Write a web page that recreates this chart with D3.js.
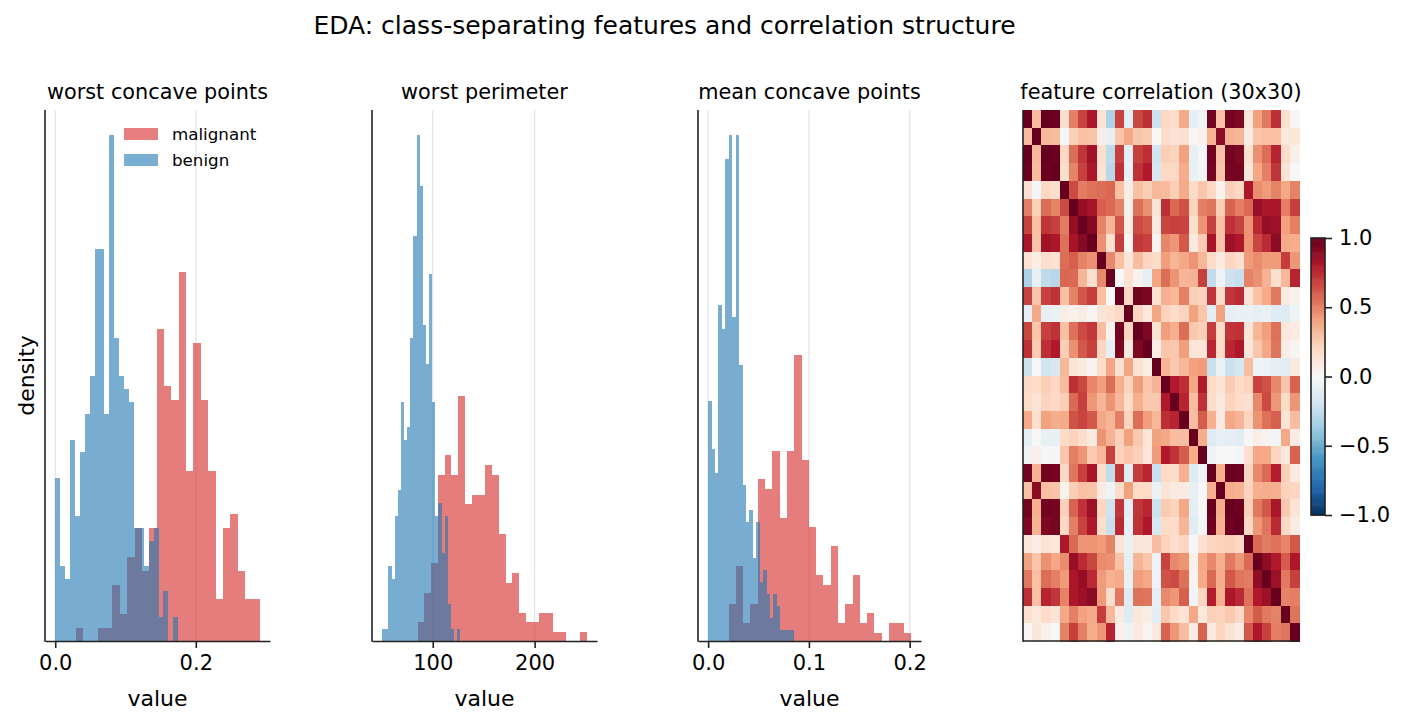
<!DOCTYPE html>
<html>
<head>
<meta charset="utf-8">
<script src="https://cdn.jsdelivr.net/npm/d3@7"></script>
<style>
  body { margin: 0; background: #fff; }
  text { font-family: "DejaVu Sans", sans-serif; fill: #000; }
</style>
</head>
<body>
<svg id="chart"></svg>
<script>
// histogram densities (25 bins per class)
let wcpBenignRange = [0.0, 0.175];
let wcpBenign = [5.24, 2.41, 1.99, 6.46, 4.02, 6.07, 7.29, 8.51, 12.56, 12.56, 7.29, 16.22, 9.73, 8.51, 8.09, 7.68, 3.63, 3.63, 2.41, 3.21, 3.63, 0.77, 1.61, 0, 0.77];
let wcpMalignantRange = [0.029, 0.291];
let wcpMalignant = [0.42, 0, 0, 0.42, 0.42, 1.80, 0.87, 2.70, 3.63, 2.25, 3.63, 10.02, 8.19, 7.74, 11.85, 5.46, 9.57, 7.74, 5.46, 1.35, 3.63, 4.08, 2.25, 1.35, 1.35];
let wcpTicks = [0.0, 0.2];

let wpBenignRange = [50.41, 127.1];
let wpBenign = [0.00087, 0.00087, 0.00544, 0.00450, 0.00906, 0.01095, 0.01733, 0.01457, 0.01552, 0.02197, 0.02929, 0.03661, 0.03292, 0.02284, 0.02008, 0.02654, 0.01733, 0.00906, 0.01001, 0.00638, 0.00906, 0.00268, 0.00087, 0, 0.00087];
let wpMalignantRange = [85.1, 251.2];
let wpMalignant = [0.00138, 0.00348, 0.00566, 0.01204, 0.01349, 0.01204, 0.01776, 0.00993, 0.01059, 0.01059, 0.01276, 0.01204, 0.00776, 0.00421, 0.00493, 0.00203, 0.00138, 0.00138, 0.00203, 0.00203, 0.00065, 0.00065, 0, 0, 0.00065];
let wpTicks = [100, 200];

let mcpBenignRange = [0.0, 0.08534];
let mcpBenign = [16.58, 13.27, 11.61, 23.22, 21.56, 33.24, 34.90, 22.39, 34.90, 19.07, 10.78, 8.22, 9.05, 5.74, 8.22, 4.08, 4.91, 3.25, 1.59, 3.25, 2.42, 0.76, 0.76, 0.76, 0.76];
let mcpMalignantRange = [0.02031, 0.2012];
let mcpMalignant = [2.56, 5.18, 1.24, 2.56, 11.19, 10.50, 13.13, 8.50, 13.13, 19.76, 12.51, 7.88, 4.56, 3.87, 6.56, 1.24, 2.56, 4.56, 1.24, 1.93, 0.55, 0, 1.24, 1.24, 0.55];
let mcpTicks = [0.0, 0.1, 0.2];

let classNames = ['malignant', 'benign'];
let classColors = ['#d62728', '#1f77b4'];

let featureNames = ['mean radius', 'mean texture', 'mean perimeter', 'mean area', 'mean smoothness',
  'mean compactness', 'mean concavity', 'mean concave points', 'mean symmetry', 'mean fractal dimension',
  'radius error', 'texture error', 'perimeter error', 'area error', 'smoothness error',
  'compactness error', 'concavity error', 'concave points error', 'symmetry error', 'fractal dimension error',
  'worst radius', 'worst texture', 'worst perimeter', 'worst area', 'worst smoothness',
  'worst compactness', 'worst concavity', 'worst concave points', 'worst symmetry', 'worst fractal dimension'];

let corr = [
  [1.00, 0.32, 1.00, 0.99, 0.17, 0.51, 0.68, 0.82, 0.15, -0.31, 0.68, -0.10, 0.67, 0.74, -0.22, 0.21, 0.19, 0.38, -0.10, -0.04, 0.97, 0.30, 0.97, 0.94, 0.12, 0.41, 0.53, 0.74, 0.16, 0.01],
  [0.32, 1.00, 0.33, 0.32, -0.02, 0.24, 0.30, 0.29, 0.07, -0.08, 0.28, 0.39, 0.28, 0.26, 0.01, 0.19, 0.14, 0.16, 0.01, 0.05, 0.35, 0.91, 0.36, 0.34, 0.08, 0.28, 0.30, 0.30, 0.11, 0.12],
  [1.00, 0.33, 1.00, 0.99, 0.21, 0.56, 0.72, 0.85, 0.18, -0.26, 0.69, -0.09, 0.69, 0.74, -0.20, 0.25, 0.23, 0.41, -0.08, -0.01, 0.97, 0.30, 0.97, 0.94, 0.15, 0.46, 0.56, 0.77, 0.19, 0.05],
  [0.99, 0.32, 0.99, 1.00, 0.18, 0.50, 0.69, 0.82, 0.15, -0.28, 0.73, -0.07, 0.73, 0.80, -0.17, 0.21, 0.21, 0.37, -0.07, -0.02, 0.96, 0.29, 0.96, 0.96, 0.12, 0.39, 0.51, 0.72, 0.14, 0.00],
  [0.17, -0.02, 0.21, 0.18, 1.00, 0.66, 0.52, 0.55, 0.56, 0.58, 0.30, 0.07, 0.30, 0.25, 0.33, 0.32, 0.25, 0.38, 0.20, 0.28, 0.21, 0.04, 0.24, 0.21, 0.81, 0.47, 0.43, 0.50, 0.39, 0.50],
  [0.51, 0.24, 0.56, 0.50, 0.66, 1.00, 0.88, 0.83, 0.60, 0.57, 0.50, 0.05, 0.55, 0.46, 0.14, 0.74, 0.57, 0.64, 0.23, 0.51, 0.54, 0.25, 0.59, 0.51, 0.57, 0.87, 0.82, 0.82, 0.51, 0.69],
  [0.68, 0.30, 0.72, 0.69, 0.52, 0.88, 1.00, 0.92, 0.50, 0.34, 0.63, 0.08, 0.66, 0.62, 0.10, 0.67, 0.69, 0.68, 0.18, 0.45, 0.69, 0.30, 0.73, 0.68, 0.45, 0.75, 0.88, 0.86, 0.41, 0.51],
  [0.82, 0.29, 0.85, 0.82, 0.55, 0.83, 0.92, 1.00, 0.46, 0.17, 0.70, 0.02, 0.71, 0.69, 0.03, 0.49, 0.44, 0.62, 0.10, 0.26, 0.83, 0.29, 0.86, 0.81, 0.45, 0.67, 0.75, 0.91, 0.38, 0.37],
  [0.15, 0.07, 0.18, 0.15, 0.56, 0.60, 0.50, 0.46, 1.00, 0.48, 0.30, 0.13, 0.31, 0.22, 0.19, 0.42, 0.34, 0.39, 0.45, 0.33, 0.19, 0.09, 0.22, 0.18, 0.43, 0.47, 0.43, 0.43, 0.70, 0.44],
  [-0.31, -0.08, -0.26, -0.28, 0.58, 0.57, 0.34, 0.17, 0.48, 1.00, 0.00, 0.16, 0.04, -0.09, 0.40, 0.56, 0.45, 0.34, 0.35, 0.69, -0.25, -0.05, -0.21, -0.23, 0.50, 0.46, 0.35, 0.18, 0.33, 0.77],
  [0.68, 0.28, 0.69, 0.73, 0.30, 0.50, 0.63, 0.70, 0.30, 0.00, 1.00, 0.21, 0.97, 0.95, 0.16, 0.36, 0.33, 0.51, 0.24, 0.23, 0.72, 0.19, 0.72, 0.75, 0.14, 0.29, 0.38, 0.53, 0.09, 0.05],
  [-0.10, 0.39, -0.09, -0.07, 0.07, 0.05, 0.08, 0.02, 0.13, 0.16, 0.21, 1.00, 0.22, 0.11, 0.40, 0.23, 0.19, 0.23, 0.41, 0.28, -0.11, 0.41, -0.10, -0.08, -0.07, -0.09, -0.07, -0.12, -0.13, -0.05],
  [0.67, 0.28, 0.69, 0.73, 0.30, 0.55, 0.66, 0.71, 0.31, 0.04, 0.97, 0.22, 1.00, 0.94, 0.15, 0.42, 0.36, 0.56, 0.27, 0.24, 0.70, 0.20, 0.72, 0.73, 0.13, 0.34, 0.42, 0.55, 0.11, 0.09],
  [0.74, 0.26, 0.74, 0.80, 0.25, 0.46, 0.62, 0.69, 0.22, -0.09, 0.95, 0.11, 0.94, 1.00, 0.08, 0.28, 0.27, 0.42, 0.13, 0.13, 0.76, 0.20, 0.76, 0.81, 0.13, 0.28, 0.39, 0.54, 0.07, 0.02],
  [-0.22, 0.01, -0.20, -0.17, 0.33, 0.14, 0.10, 0.03, 0.19, 0.40, 0.16, 0.40, 0.15, 0.08, 1.00, 0.34, 0.27, 0.33, 0.41, 0.43, -0.23, -0.07, -0.22, -0.18, 0.31, -0.06, -0.06, -0.10, -0.11, 0.10],
  [0.21, 0.19, 0.25, 0.21, 0.32, 0.74, 0.67, 0.49, 0.42, 0.56, 0.36, 0.23, 0.42, 0.28, 0.34, 1.00, 0.80, 0.74, 0.39, 0.80, 0.20, 0.14, 0.26, 0.20, 0.23, 0.68, 0.64, 0.48, 0.28, 0.59],
  [0.19, 0.14, 0.23, 0.21, 0.25, 0.57, 0.69, 0.44, 0.34, 0.45, 0.33, 0.19, 0.36, 0.27, 0.27, 0.80, 1.00, 0.77, 0.31, 0.73, 0.19, 0.10, 0.23, 0.19, 0.17, 0.48, 0.66, 0.44, 0.20, 0.44],
  [0.38, 0.16, 0.41, 0.37, 0.38, 0.64, 0.68, 0.62, 0.39, 0.34, 0.51, 0.23, 0.56, 0.42, 0.33, 0.74, 0.77, 1.00, 0.31, 0.61, 0.36, 0.09, 0.39, 0.34, 0.22, 0.45, 0.55, 0.60, 0.14, 0.31],
  [-0.10, 0.01, -0.08, -0.07, 0.20, 0.23, 0.18, 0.10, 0.45, 0.35, 0.24, 0.41, 0.27, 0.13, 0.41, 0.39, 0.31, 0.31, 1.00, 0.37, -0.13, -0.08, -0.10, -0.11, -0.01, 0.06, 0.04, -0.03, 0.39, 0.08],
  [-0.04, 0.05, -0.01, -0.02, 0.28, 0.51, 0.45, 0.26, 0.33, 0.69, 0.23, 0.28, 0.24, 0.13, 0.43, 0.80, 0.73, 0.61, 0.37, 1.00, -0.04, -0.00, -0.00, -0.02, 0.17, 0.39, 0.38, 0.22, 0.11, 0.59],
  [0.97, 0.35, 0.97, 0.96, 0.21, 0.54, 0.69, 0.83, 0.19, -0.25, 0.72, -0.11, 0.70, 0.76, -0.23, 0.20, 0.19, 0.36, -0.13, -0.04, 1.00, 0.36, 0.99, 0.98, 0.22, 0.48, 0.57, 0.79, 0.24, 0.09],
  [0.30, 0.91, 0.30, 0.29, 0.04, 0.25, 0.30, 0.29, 0.09, -0.05, 0.19, 0.41, 0.20, 0.20, -0.07, 0.14, 0.10, 0.09, -0.08, -0.00, 0.36, 1.00, 0.37, 0.35, 0.23, 0.36, 0.37, 0.36, 0.23, 0.22],
  [0.97, 0.36, 0.97, 0.96, 0.24, 0.59, 0.73, 0.86, 0.22, -0.21, 0.72, -0.10, 0.72, 0.76, -0.22, 0.26, 0.23, 0.39, -0.10, -0.00, 0.99, 0.37, 1.00, 0.98, 0.24, 0.53, 0.62, 0.82, 0.27, 0.14],
  [0.94, 0.34, 0.94, 0.96, 0.21, 0.51, 0.68, 0.81, 0.18, -0.23, 0.75, -0.08, 0.73, 0.81, -0.18, 0.20, 0.19, 0.34, -0.11, -0.02, 0.98, 0.35, 0.98, 1.00, 0.21, 0.44, 0.54, 0.75, 0.21, 0.08],
  [0.12, 0.08, 0.15, 0.12, 0.81, 0.57, 0.45, 0.45, 0.43, 0.50, 0.14, -0.07, 0.13, 0.13, 0.31, 0.23, 0.17, 0.22, -0.01, 0.17, 0.22, 0.23, 0.24, 0.21, 1.00, 0.57, 0.52, 0.55, 0.49, 0.62],
  [0.41, 0.28, 0.46, 0.39, 0.47, 0.87, 0.75, 0.67, 0.47, 0.46, 0.29, -0.09, 0.34, 0.28, -0.06, 0.68, 0.48, 0.45, 0.06, 0.39, 0.48, 0.36, 0.53, 0.44, 0.57, 1.00, 0.89, 0.80, 0.61, 0.81],
  [0.53, 0.30, 0.56, 0.51, 0.43, 0.82, 0.88, 0.75, 0.43, 0.35, 0.38, -0.07, 0.42, 0.39, -0.06, 0.64, 0.66, 0.55, 0.04, 0.38, 0.57, 0.37, 0.62, 0.54, 0.52, 0.89, 1.00, 0.86, 0.53, 0.69],
  [0.74, 0.30, 0.77, 0.72, 0.50, 0.82, 0.86, 0.91, 0.43, 0.18, 0.53, -0.12, 0.55, 0.54, -0.10, 0.48, 0.44, 0.60, -0.03, 0.22, 0.79, 0.36, 0.82, 0.75, 0.55, 0.80, 0.86, 1.00, 0.50, 0.51],
  [0.16, 0.11, 0.19, 0.14, 0.39, 0.51, 0.41, 0.38, 0.70, 0.33, 0.09, -0.13, 0.11, 0.07, -0.11, 0.28, 0.20, 0.14, 0.39, 0.11, 0.24, 0.23, 0.27, 0.21, 0.49, 0.61, 0.53, 0.50, 1.00, 0.54],
  [0.01, 0.12, 0.05, 0.00, 0.50, 0.69, 0.51, 0.37, 0.44, 0.77, 0.05, -0.05, 0.09, 0.02, 0.10, 0.59, 0.44, 0.31, 0.08, 0.59, 0.09, 0.22, 0.14, 0.08, 0.62, 0.81, 0.69, 0.51, 0.54, 1.00]
];

let colorbarTicks = [1.0, 0.5, 0.0, -0.5, -1.0];
let rdbu = ['#67001f', '#b2182b', '#d6604d', '#f4a582', '#fddbc7', '#f7f7f7', '#d1e5f0', '#92c5de', '#4393c3', '#2166ac', '#053061'];

let width = 1410;
let height = 726;
let plotTop = 110;
let plotBottom = 641;

const svg = d3.select('#chart').attr('width', width).attr('height', height);

let panels = [
  {title: 'worst concave points', left: 45, right: 270, ticks: wcpTicks, fmt: d3.format('.1f'),
   series: [[wcpMalignant, wcpMalignantRange], [wcpBenign, wcpBenignRange]]},
  {title: 'worst perimeter', left: 372, right: 597, ticks: wpTicks, fmt: d3.format('d'),
   series: [[wpMalignant, wpMalignantRange], [wpBenign, wpBenignRange]]},
  {title: 'mean concave points', left: 698, right: 921, ticks: mcpTicks, fmt: d3.format('.1f'),
   series: [[mcpMalignant, mcpMalignantRange], [mcpBenign, mcpBenignRange]]}
];

svg.append('text')
   .attr('x', 664.5)
   .attr('y', 34)
   .attr('text-anchor', 'middle')
   .style('font-size', '25px')
   .text('EDA: class-separating features and correlation structure');

let drawHist = (p, idx) => {
  let lo = d3.min(p.series, (s) => s[1][0]);
  let hi = d3.max(p.series, (s) => s[1][1]);
  let pad = (hi - lo) * 0.05;
  let xScale = d3.scaleLinear().domain([lo - pad, hi + pad]).range([p.left, p.right]);
  let ymax = d3.max(p.series, (s) => d3.max(s[0]));
  let yScale = d3.scaleLinear().domain([0, ymax * 1.05]).range([plotBottom, plotTop]);

  let g = svg.append('g');

  g.selectAll('.grid')
   .data(p.ticks)
   .enter()
   .append('line')
   .attr('x1', (d) => xScale(d))
   .attr('x2', (d) => xScale(d))
   .attr('y1', plotTop)
   .attr('y2', plotBottom)
   .attr('stroke', '#b0b0b0')
   .attr('stroke-opacity', 0.3)
   .attr('stroke-width', 1.4);

  p.series.forEach((s, si) => {
    let vals = s[0];
    let r = s[1];
    let bw = (r[1] - r[0]) / vals.length;
    g.append('g')
     .attr('opacity', 0.6)
     .attr('shape-rendering', 'crispEdges')
     .selectAll('rect')
     .data(vals)
     .enter()
     .append('rect')
     .attr('x', (d, i) => xScale(r[0] + i * bw))
     .attr('width', (d, i) => xScale(r[0] + (i + 1) * bw) - xScale(r[0] + i * bw))
     .attr('y', (d) => yScale(d))
     .attr('height', (d) => plotBottom - yScale(d))
     .attr('fill', classColors[si]);
  });

  let xAxis = d3.axisBottom(xScale)
                .tickValues(p.ticks)
                .tickFormat(p.fmt)
                .tickSize(7)
                .tickSizeOuter(0)
                .tickPadding(7);
  let ax = g.append('g')
            .attr('transform', 'translate(0,' + plotBottom + ')')
            .call(xAxis);
  ax.select('.domain').attr('stroke', '#222').attr('stroke-width', 1.6);
  ax.selectAll('.tick line').attr('stroke', '#222').attr('stroke-width', 1.6);
  ax.selectAll('.tick text')
    .style('font-family', '"DejaVu Sans", sans-serif')
    .style('font-size', '21px')
    .attr('fill', '#000');

  g.append('line')
   .attr('x1', p.left).attr('x2', p.left)
   .attr('y1', plotTop).attr('y2', plotBottom + 0.8)
   .attr('stroke', '#222')
   .attr('stroke-width', 1.6);

  g.append('text')
   .attr('x', (p.left + p.right) / 2)
   .attr('y', 99)
   .attr('text-anchor', 'middle')
   .style('font-size', '20.8px')
   .text(p.title);

  g.append('text')
   .attr('x', (p.left + p.right) / 2)
   .attr('y', 706)
   .attr('text-anchor', 'middle')
   .style('font-size', '22px')
   .text('value');

  if (idx === 0) {
    svg.append('text')
       .attr('transform', 'translate(34,' + ((plotTop + plotBottom) / 2) + ') rotate(-90)')
       .attr('text-anchor', 'middle')
       .style('font-size', '22px')
       .text('density');

    let legend = g.append('g').attr('transform', 'translate(124,128)');
    classNames.forEach((name, i) => {
      legend.append('rect')
            .attr('x', 0)
            .attr('y', i * 26)
            .attr('width', 34)
            .attr('height', 12)
            .attr('fill', classColors[i])
            .attr('opacity', 0.6);
      legend.append('text')
            .attr('x', 48)
            .attr('y', i * 26 + 12)
            .style('font-size', '16.7px')
            .text(name);
    });
  }
};

panels.forEach(drawHist);

// correlation heatmap
let hmLeft = 1023;
let hmRight = 1299;
let colorScale = d3.scaleLinear()
                   .domain(d3.range(11).map((i) => 1 - i * 0.2))
                   .range(rdbu)
                   .interpolate(d3.interpolateRgb)
                   .clamp(true);
let xBand = d3.scaleBand().domain(d3.range(featureNames.length)).range([hmLeft, hmRight]);
let yBand = d3.scaleBand().domain(d3.range(featureNames.length)).range([plotTop, plotBottom]);

let cells = [];
corr.forEach((row, i) => row.forEach((v, j) => cells.push({i: i, j: j, v: v})));

svg.append('g')
   .attr('shape-rendering', 'crispEdges')
   .selectAll('rect')
   .data(cells)
   .enter()
   .append('rect')
   .attr('x', (d) => xBand(d.j))
   .attr('y', (d) => yBand(d.i))
   .attr('width', xBand.bandwidth() + 0.5)
   .attr('height', yBand.bandwidth() + 0.5)
   .attr('fill', (d) => colorScale(d.v));

svg.append('line')
   .attr('x1', hmLeft).attr('x2', hmLeft)
   .attr('y1', plotTop).attr('y2', plotBottom + 0.8)
   .attr('stroke', '#222').attr('stroke-width', 1.6);
svg.append('line')
   .attr('x1', hmLeft).attr('x2', hmRight)
   .attr('y1', plotBottom).attr('y2', plotBottom)
   .attr('stroke', '#222').attr('stroke-width', 1.6);

svg.append('text')
   .attr('x', (hmLeft + hmRight) / 2)
   .attr('y', 99)
   .attr('text-anchor', 'middle')
   .style('font-size', '20.8px')
   .text('feature correlation (30x30)');

// colorbar
let cbLeft = 1311;
let cbWidth = 14;
let cbScale = d3.scaleLinear().domain([-1, 1]).range([515, 238]);
let steps = d3.range(-1, 1, 2 / 256);

svg.append('g')
   .selectAll('rect')
   .data(steps)
   .enter()
   .append('rect')
   .attr('x', cbLeft)
   .attr('width', cbWidth)
   .attr('y', (d) => cbScale(d + 2 / 256))
   .attr('height', (d) => cbScale(d) - cbScale(d + 2 / 256) + 0.6)
   .attr('fill', (d) => colorScale(d + 1 / 256));

svg.append('rect')
   .attr('x', cbLeft)
   .attr('y', cbScale(1))
   .attr('width', cbWidth)
   .attr('height', cbScale(-1) - cbScale(1))
   .attr('fill', 'none')
   .attr('stroke', '#222')
   .attr('stroke-width', 1.6);

let cbAxis = d3.axisRight(cbScale)
               .tickValues(colorbarTicks)
               .tickFormat(d3.format('.1f'))
               .tickSize(7)
               .tickPadding(7);
let cbg = svg.append('g')
             .attr('transform', 'translate(' + (cbLeft + cbWidth) + ',0)')
             .call(cbAxis);
cbg.select('.domain').remove();
cbg.selectAll('.tick line').attr('stroke', '#222').attr('stroke-width', 1.6);
cbg.selectAll('.tick text')
   .style('font-family', '"DejaVu Sans", sans-serif')
   .style('font-size', '21px')
   .attr('fill', '#000');
</script>
</body>
</html>
